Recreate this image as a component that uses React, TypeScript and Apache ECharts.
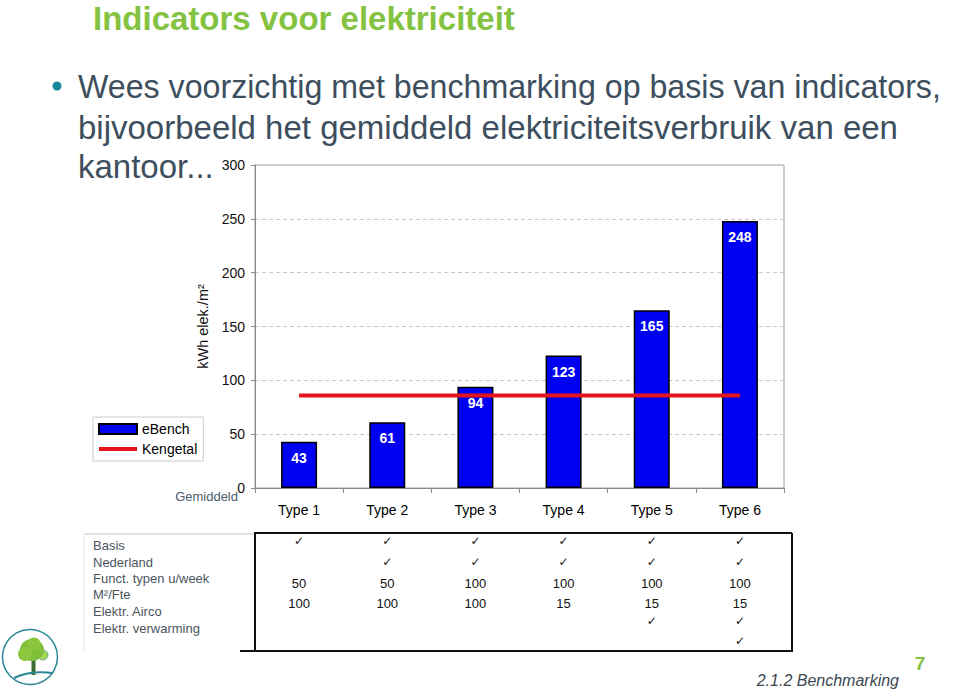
import React, { useEffect, useRef } from "react";
import * as echarts from "echarts";

const categories = ["Type 1", "Type 2", "Type 3", "Type 4", "Type 5", "Type 6"];
const ebench = [43, 61, 94, 123, 165, 248];
const kengetal = [86, 86, 86, 86, 86, 86];
const yMin = 0;
const yMax = 300;
const yInterval = 50;

const titleText = "Indicators voor elektriciteit";
const bodyLines = [
  "Wees voorzichtig met benchmarking op basis van indicators,",
  "bijvoorbeeld het gemiddeld elektriciteitsverbruik van een",
  "kantoor...",
];
const tableRowLabels = [
  "Basis",
  "Nederland",
  "Funct. typen u/week",
  "M²/Fte",
  "Elektr. Airco",
  "Elektr. verwarming",
];
const tableRows = [
  ["✓", "✓", "✓", "✓", "✓", "✓"],
  ["", "✓", "✓", "✓", "✓", "✓"],
  ["50", "50", "100", "100", "100", "100"],
  ["100", "100", "100", "15", "15", "15"],
  ["", "", "", "", "✓", "✓"],
  ["", "", "", "", "", "✓"],
];

const FONT = "'Liberation Sans', Arial, sans-serif";

export default function App() {
  const ref = useRef<HTMLDivElement>(null);
  useEffect(() => {
    if (!ref.current) return;
    const chart = echarts.init(ref.current, null, { renderer: "svg" });
    const option: any = {
      animation: false,
      backgroundColor: "#ffffff",
      textStyle: { fontFamily: FONT },
      grid: {
        left: 255,
        top: 165,
        width: 529,
        height: 323,
        show: true,
        borderColor: "#a0a0a0",
        borderWidth: 1,
        backgroundColor: "transparent",
      },
      legend: {
        left: 93,
        top: 417,
        orient: "vertical",
        borderColor: "#cccccc",
        borderWidth: 1,
        padding: [5, 6, 5, 4],
        itemGap: 6,
        itemWidth: 38,
        itemHeight: 10,
        textStyle: { fontSize: 14, color: "#000", fontFamily: FONT },
        data: [
          { name: "eBench", icon: "rect" },
          { name: "Kengetal", itemStyle: { opacity: 0 }, lineStyle: { width: 4, color: "#e3141c" } },
        ],
      },
      xAxis: {
        type: "category",
        data: categories,
        axisLine: { lineStyle: { color: "#8a8a8a", width: 1 } },
        axisTick: { show: true, length: 5, lineStyle: { color: "#8a8a8a" } },
        axisLabel: { fontSize: 14, color: "#000", margin: 15, fontFamily: FONT },
        splitLine: { show: false },
      },
      yAxis: {
        type: "value",
        min: yMin,
        max: yMax,
        interval: yInterval,
        name: "kWh elek./m²",
        nameLocation: "middle",
        nameGap: 43,
        nameTextStyle: { fontSize: 14.5, color: "#111", fontFamily: FONT },
        axisLine: { show: true, lineStyle: { color: "#8a8a8a", width: 1 } },
        axisTick: { show: true, length: 4, lineStyle: { color: "#8a8a8a" } },
        axisLabel: { fontSize: 14, color: "#111", margin: 10, fontFamily: FONT },
        splitLine: { show: true, lineStyle: { color: "#c8c8c8", type: [4, 3] } },
      },
      series: [
        {
          name: "eBench",
          type: "bar",
          data: ebench,
          barWidth: 36,
          itemStyle: { color: "#0000f2", borderColor: "#000", borderWidth: 1.5 },
          label: {
            show: true,
            position: "insideTop",
            distance: 9,
            color: "#fff",
            fontWeight: "bold",
            fontSize: 14,
            fontFamily: FONT,
          },
        },
        {
          name: "Kengetal",
          type: "line",
          data: kengetal,
          symbol: "none",
          showSymbol: false,
          lineStyle: { color: "#e3141c", width: 4 },
          itemStyle: { color: "#e3141c" },
          z: 5,
        },
      ],
    };
    chart.setOption(option);

    const colX = categories.map((c) => chart.convertToPixel({ xAxisIndex: 0 }, c) as number);
    const rowY = [541, 562, 583, 603, 621, 641];
    const labelY = [545, 562, 578, 594, 611, 628];

    const g: any[] = [];
    g.push({
      type: "text",
      x: 93,
      y: 18,
      style: {
        text: titleText,
        fontSize: 33,
        lineHeight: 33,
        fontWeight: "bold",
        fontFamily: FONT,
        fill: "#84c341",
        textVerticalAlign: "middle",
      },
    });
    g.push({ type: "circle", shape: { cx: 57, cy: 86, r: 4.5 }, style: { fill: "#17889c" } });
    const lineYs = [86, 127, 166];
    const lineScale = [0.975, 1, 1];
    bodyLines.forEach((t, i) => {
      g.push({
        type: "text",
        x: 78,
        y: lineYs[i],
        scaleX: lineScale[i],
        style: {
          text: t,
          fontSize: 33,
          fontFamily: FONT,
          fill: "#3d4f5e",
          textVerticalAlign: "middle",
        },
      });
    });
    g.push({
      type: "text",
      x: 238,
      y: 496,
      style: {
        text: "Gemiddeld",
        fontSize: 13,
        fontFamily: FONT,
        fill: "#4b5b6b",
        textAlign: "right",
        textVerticalAlign: "middle",
      },
    });
    // table frame
    g.push({ type: "line", shape: { x1: 84, y1: 534, x2: 254, y2: 534 }, style: { stroke: "#c8c8c8", lineWidth: 1 } });
    g.push({ type: "line", shape: { x1: 84, y1: 534, x2: 84, y2: 652 }, style: { stroke: "#e6e6e6", lineWidth: 1 } });
    g.push({ type: "line", shape: { x1: 254, y1: 533, x2: 792, y2: 533 }, style: { stroke: "#111", lineWidth: 2 } });
    g.push({ type: "line", shape: { x1: 255, y1: 533, x2: 255, y2: 651 }, style: { stroke: "#111", lineWidth: 2 } });
    g.push({ type: "line", shape: { x1: 792, y1: 533, x2: 792, y2: 651 }, style: { stroke: "#111", lineWidth: 2 } });
    g.push({ type: "line", shape: { x1: 240, y1: 651, x2: 793, y2: 651 }, style: { stroke: "#111", lineWidth: 2 } });
    tableRowLabels.forEach((t, i) => {
      g.push({
        type: "text",
        x: 93,
        y: labelY[i],
        style: { text: t, fontSize: 13, fontFamily: FONT, fill: "#4a5560", textVerticalAlign: "middle" },
      });
    });
    tableRows.forEach((row, r) => {
      row.forEach((v, c) => {
        if (!v) return;
        const isCheck = v === "✓";
        g.push({
          type: "text",
          x: colX[c],
          y: rowY[r],
          style: {
            text: v,
            fontSize: isCheck ? 12 : 13,
            fontFamily: isCheck ? "'DejaVu Sans', sans-serif" : FONT,
            fill: "#111",
            textAlign: "center",
            textVerticalAlign: "middle",
          },
        });
      });
    });
    // logo
    g.push({ type: "circle", shape: { cx: 30, cy: 657, r: 27.5 }, style: { fill: "#fff", stroke: "#2a8796", lineWidth: 1.5 } });
    g.push({ type: "rect", shape: { x: 31.5, y: 655, width: 4, height: 20 }, style: { fill: "#3b6e2e" } });
    g.push({ type: "circle", shape: { cx: 43, cy: 655, r: 5 }, style: { fill: "#a5d65a", stroke: "#2a8796", lineWidth: 0.6 } });
    g.push({ type: "ellipse", shape: { cx: 32, cy: 650, rx: 12, ry: 11 }, style: { fill: "#7fbf3a" } });
    g.push({ type: "circle", shape: { cx: 25, cy: 654, r: 7 }, style: { fill: "#8cc63f" } });
    g.push({ type: "circle", shape: { cx: 34, cy: 644, r: 6.5 }, style: { fill: "#8cc63f" } });
    g.push({
      type: "bezierCurve",
      shape: { x1: 14, y1: 678, x2: 53, y2: 673, cpx1: 30, cpy1: 670 },
      style: { stroke: "#2a8796", lineWidth: 2, fill: "none" },
    });
    g.push({
      type: "text",
      x: 920,
      y: 663,
      style: { text: "7", fontSize: 19, fontWeight: "bold", fontFamily: FONT, fill: "#84c341", textAlign: "center", textVerticalAlign: "middle" },
    });
    g.push({
      type: "text",
      x: 899,
      y: 680,
      style: {
        text: "2.1.2 Benchmarking",
        fontSize: 16,
        fontStyle: "italic",
        fontFamily: FONT,
        fill: "#3b4752",
        textAlign: "right",
        textVerticalAlign: "middle",
      },
    });

    chart.setOption({ graphic: g });
    return () => chart.dispose();
  }, []);
  return <div ref={ref} style={{ position: "absolute", left: 0, top: 0, width: 960, height: 691 }} />;
}
